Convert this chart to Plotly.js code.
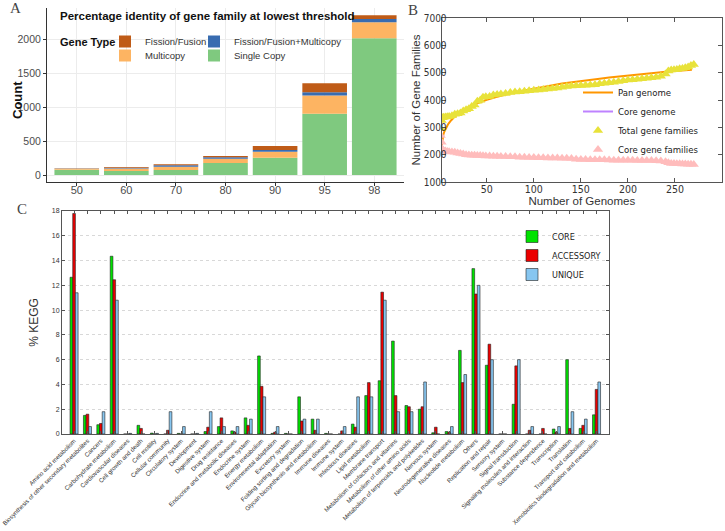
<!DOCTYPE html>
<html><head><meta charset="utf-8">
<script src="https://cdn.plot.ly/plotly-3.0.1.min.js"></script>
<style>html,body{margin:0;padding:0;background:#fff;}#chart{width:725px;height:531px;}</style>
</head><body><div id="chart"></div>
<script>
// ---------- Panel A data ----------
const thresholds = ['50','60','70','80','90','95','98'];
const singleCopy = [78, 60, 75, 175, 255, 900, 2010];
const multicopy = [15, 35, 45, 65, 88, 268, 235];
const fissionFusionMulticopy = [3, 12, 22, 20, 25, 50, 48];
const fissionFusion = [2, 10, 15, 20, 58, 130, 55];

// ---------- Panel B data ----------
const genomes = [1,2,3,4,6,8,10,13,16,19,22,25,28,31,34,37,40,43,46,49,53,57,61,65,
  70,75,80,85,90,95,100,105,110,115,120,125,130,135,140,145,150,155,160,165,170,175,180,185,190,195,
  200,205,210,215,220,225,230,235,240,243,246,249,252,255,258,261,264,267,270];
const totalFamilies = [2950,3250,3350,3370,3380,3390,3400,3420,3480,3500,3520,3600,3640,3680,3760,3820,3950,3990,4100,4120,4130,4180,4200,4220,
  4240,4270,4290,4300,4320,4340,4360,4370,4380,4400,4420,4440,4470,4490,4510,4520,4530,4540,4550,4560,4590,4610,4630,4650,4680,4700,
  4730,4745,4760,4780,4800,4815,4830,4870,4950,5060,5100,5110,5120,5140,5150,5180,5210,5260,5300];
const coreFamilies = [2700,2450,2200,2150,2130,2120,2110,2100,2090,2060,2040,2020,2000,1990,1980,1975,1970,1965,1960,1955,1950,1945,1940,1935,
  1930,1925,1920,1910,1905,1900,1895,1890,1885,1880,1880,1875,1870,1865,1860,1830,1820,1820,1815,1815,1810,1810,1805,1800,1800,1800,
  1795,1795,1790,1790,1785,1785,1780,1770,1740,1700,1680,1675,1670,1665,1660,1655,1650,1645,1640];
const fitGenomes = [2,3,4,5,7,9,12,15,20,25,30,40,50,60,70,80,90,100,110,120,130,140,150,160,170,180,190,200,210,220,230,240,250,260,268];
const panGenome = [2300,2600,2750,2850,3000,3120,3250,3360,3500,3620,3720,3880,4010,4110,4200,4280,4350,4420,4480,4540,4600,4650,4700,4740,4780,4820,4860,4900,4930,4960,5000,5030,5060,5090,5110];
const coreGenome = [2350,2250,2180,2150,2130,2115,2105,2095,2075,2040,2000,1970,1950,1940,1930,1920,1905,1895,1885,1878,1870,1860,1825,1815,1810,1805,1800,1795,1790,1785,1780,1745,1675,1660,1648];

// ---------- Panel C data ----------
const keggCategories = ['Amino acid metabolism','Biosynthesis of other secondary metabolites','Cancers','Carbohydrate metabolism',
  'Cardiovascular diseases','Cell growth and death','Cell motility','Cellular community','Circulatory system','Development',
  'Digestive system','Drug resistance','Endocrine and metabolic diseases','Endocrine system','Energy metabolism',
  'Environmental adaptation','Excretory system','Folding sorting and degradation','Glycan biosynthesis and metabolism',
  'Immune diseases','Immune system','Infectious diseases','Lipid metabolism','Membrane transport',
  'Metabolism of cofactors and vitamins','Metabolism of other amino acids','Metabolism of terpenoids and polyketides',
  'Nervous system','Neurodegenerative diseases','Nucleotide metabolism','Others','Replication and repair','Sensory system',
  'Signal transduction','Signaling molecules and interaction','Substance dependence','Transcription','Translation',
  'Transport and catabolism','Xenobiotics biodegradation and metabolism'];
const coreKegg = [12.65,1.5,0.75,14.35,0,0.7,0.07,0,0.05,0,0.2,0.6,0.25,1.3,6.3,0.05,0.05,3.0,1.2,0.05,
  0,0.8,3.1,4.3,7.5,2.3,2.0,0.1,0.2,6.75,13.35,5.55,0,2.4,0,0,0.4,6.0,0.45,1.55];
const accessoryKegg = [17.8,1.6,0.85,12.45,0,0.45,0,0.3,0,0,0.55,1.3,0.15,0.7,3.85,0.15,0,1.05,0.3,0,
  0.25,0.55,4.15,11.45,3.1,2.2,2.2,0.55,0.15,4.15,11.3,7.25,0,5.5,0.3,0.45,0.15,0.45,0.7,3.6];
const uniqueKegg = [11.4,0.6,1.8,10.8,0.05,0,0.05,1.8,0.6,0.05,1.8,0.6,0.6,1.2,3.0,0.6,0,1.2,1.2,0,
  0.6,3.0,3.0,10.8,1.8,1.8,4.2,0,0.6,4.8,12.0,6.0,0,6.0,0.6,0,0.6,1.8,1.2,4.2];

// ---------- helpers ----------
const W = 725, H = 531;
const px = v => v / W;
const py = v => 1 - v / H;
const sans = 'Liberation Sans, Arial, sans-serif';
const narrow = '"Liberation Sans Narrow", "DejaVu Sans Condensed", "Arial Narrow", "Liberation Sans", sans-serif';
const serif = 'Liberation Serif, "Times New Roman", serif';

const base2 = singleCopy.map((v, i) => v + multicopy[i]);
const base3 = base2.map((v, i) => v + fissionFusionMulticopy[i]);

const traces = [
  {type:'bar', x:thresholds, y:singleCopy, base:singleCopy.map(() => 0), name:'Single Copy', width:0.9, offsetgroup:'a',
   marker:{color:'#7fc97f'}, xaxis:'x', yaxis:'y', legend:'legend6', hoverinfo:'skip'},
  {type:'bar', x:thresholds, y:multicopy, base:singleCopy, name:'Multicopy', width:0.9, offsetgroup:'a',
   marker:{color:'#fdb462'}, xaxis:'x', yaxis:'y', legend:'legend5', hoverinfo:'skip'},
  {type:'bar', x:thresholds, y:fissionFusionMulticopy, base:base2, name:'Fission/Fusion+Multicopy', width:0.9, offsetgroup:'a',
   marker:{color:'#386cb0'}, xaxis:'x', yaxis:'y', legend:'legend4', hoverinfo:'skip'},
  {type:'bar', x:thresholds, y:fissionFusion, base:base3, name:'Fission/Fusion', width:0.9, offsetgroup:'a',
   marker:{color:'#bf5b17'}, xaxis:'x', yaxis:'y', legend:'legend', hoverinfo:'skip'},

  {type:'scatter', mode:'lines', x:fitGenomes, y:panGenome, name:'Pan genome', line:{color:'rgb(255,150,0)', width:2},
   xaxis:'x2', yaxis:'y2', legend:'legend2'},
  {type:'scatter', mode:'lines', x:fitGenomes, y:coreGenome, name:'Core genome', line:{color:'rgb(190,130,255)', width:2},
   xaxis:'x2', yaxis:'y2', legend:'legend2'},
  {type:'scatter', mode:'markers', x:genomes, y:totalFamilies, name:'Total gene families',
   marker:{symbol:'triangle-up', size:9, color:'rgb(232,226,58)'}, xaxis:'x2', yaxis:'y2', legend:'legend2'},
  {type:'scatter', mode:'markers', x:genomes, y:coreFamilies, name:'Core gene families',
   marker:{symbol:'triangle-up', size:9, color:'rgb(255,188,188)'}, xaxis:'x2', yaxis:'y2', legend:'legend2'},

  {type:'bar', x:keggCategories, y:coreKegg, name:'CORE', marker:{color:'rgb(0,226,0)', line:{color:'#222', width:0.6}},
   xaxis:'x3', yaxis:'y3', legend:'legend3'},
  {type:'bar', x:keggCategories, y:accessoryKegg, name:'ACCESSORY', marker:{color:'rgb(235,0,0)', line:{color:'#222', width:0.6}},
   xaxis:'x3', yaxis:'y3', legend:'legend3'},
  {type:'bar', x:keggCategories, y:uniqueKegg, name:'UNIQUE', marker:{color:'rgb(135,198,240)', line:{color:'#222', width:0.6}},
   xaxis:'x3', yaxis:'y3', legend:'legend3'}
];

const legA = (x, y) => ({x:px(x), xanchor:'left', y:py(y), yanchor:'top', bgcolor:'rgba(0,0,0,0)',
  font:{size:9.5, color:'#333', family:sans}});

const layout = {
  width: W, height: H,
  margin: {l:0, r:0, t:0, b:0},
  paper_bgcolor:'#fff', plot_bgcolor:'rgba(0,0,0,0)',
  barmode:'group', bargap:0.4, bargroupgap:0,
  font:{family:sans, color:'#333'},
  showlegend:true,
  // Panel A
  xaxis:{domain:[px(47), px(404)], anchor:'y', type:'category', range:[-0.6, 6.6],
    showline:true, linecolor:'#333', linewidth:1, ticks:'outside', ticklen:3, tickcolor:'#333', ticklabelstandoff:-5,
    tickfont:{size:11, color:'#4d4d4d', family:sans}, showgrid:true, gridcolor:'#ececec', zeroline:false},
  yaxis:{domain:[py(182), py(8)], anchor:'x', range:[-103, 2456], tickvals:[0,500,1000,1500,2000],
    showline:true, linecolor:'#333', linewidth:1, ticks:'outside', ticklen:3, tickcolor:'#333',
    tickfont:{size:10.5, color:'#4d4d4d', family:sans}, showgrid:true, gridcolor:'#ececec', zeroline:false},
  // Panel B
  xaxis2:{domain:[px(441.6), px(722)], anchor:'y2', range:[2, 300], tickvals:[50,100,150,200,250],
    showline:true, mirror:'ticks', linecolor:'#555', linewidth:1, ticks:'inside', ticklen:4, tickcolor:'#555', ticklabelstandoff:-3,
    tickfont:{size:10.5, color:'#333', family:narrow}, showgrid:false, zeroline:false,
    title:{text:'Number of Genomes', font:{size:11.5, color:'#333', family:sans}, standoff:0}},
  yaxis2:{domain:[py(182), py(18)], anchor:'x2', range:[1000, 7000], dtick:1000,
    showline:true, mirror:'ticks', linecolor:'#555', linewidth:1, ticks:'inside', ticklen:4, tickcolor:'#555', ticklabelstandoff:-8,
    tickfont:{size:10, color:'#333', family:narrow}, showgrid:false, zeroline:false,
    title:{text:'Number of Gene Families', font:{size:11.5, color:'#333', family:sans}, standoff:0}},
  // Panel C
  xaxis3:{domain:[px(62), px(609)], anchor:'y3', type:'category', range:[-0.9, 39.93],
    tickmode:'array', tickvals:keggCategories, ticktext:keggCategories, tickangle:-45,
    showline:true, mirror:'ticks', linecolor:'#555', linewidth:1, ticks:'inside', ticklen:3, tickcolor:'#555',
    tickfont:{size:6.1, color:'#333', family:sans}, showgrid:false, zeroline:false},
  yaxis3:{domain:[py(434), py(211)], anchor:'x3', range:[0, 18], dtick:2,
    showline:true, mirror:'ticks', linecolor:'#555', linewidth:1, ticks:'inside', ticklen:3, tickcolor:'#555',
    tickfont:{size:7, color:'#333', family:sans}, showgrid:true, gridcolor:'#d8d8d8', griddash:'dot', zeroline:false,
    title:{text:'% KEGG', font:{size:12, color:'#333', family:sans}, standoff:10}},
  legend: legA(105, 27),
  legend4: legA(194, 27),
  legend5: legA(105, 41),
  legend6: legA(194, 41),
  legend2:{x:px(705), xanchor:'right', y:py(78), yanchor:'top', bgcolor:'rgba(0,0,0,0)',
    font:{size:9.5, color:'#222', family:narrow}, traceorder:'normal'},
  legend3:{x:px(606), xanchor:'right', y:py(222), yanchor:'top', bgcolor:'rgba(0,0,0,0)',
    font:{size:9, color:'#222', family:narrow}, traceorder:'normal'},
  annotations:[
    {text:'<b>Percentage identity of gene family at lowest threshold</b>', xref:'paper', yref:'paper',
     x:px(58), y:py(16), xanchor:'left', yanchor:'middle', showarrow:false, font:{size:11.5, color:'#111', family:sans}},
    {text:'<b>Gene Type</b>', xref:'paper', yref:'paper',
     x:px(58), y:py(42), xanchor:'left', yanchor:'middle', showarrow:false, font:{size:11, color:'#111', family:sans}},
    {text:'<b>Count</b>', xref:'paper', yref:'paper', textangle:-90,
     x:px(18), y:py(100), xanchor:'center', yanchor:'middle', showarrow:false, font:{size:13, color:'#111', family:sans}},
    {text:'A', xref:'paper', yref:'paper', x:px(8), y:py(8), xanchor:'left', yanchor:'middle', showarrow:false,
     font:{size:15, color:'#444', family:serif}},
    {text:'B', xref:'paper', yref:'paper', x:px(406), y:py(10), xanchor:'left', yanchor:'middle', showarrow:false,
     font:{size:15, color:'#444', family:serif}},
    {text:'C', xref:'paper', yref:'paper', x:px(15), y:py(209), xanchor:'left', yanchor:'middle', showarrow:false,
     font:{size:15, color:'#444', family:serif}}
  ]
};

Plotly.newPlot('chart', traces, layout, {staticPlot:true, displayModeBar:false});
</script>
</body></html>
